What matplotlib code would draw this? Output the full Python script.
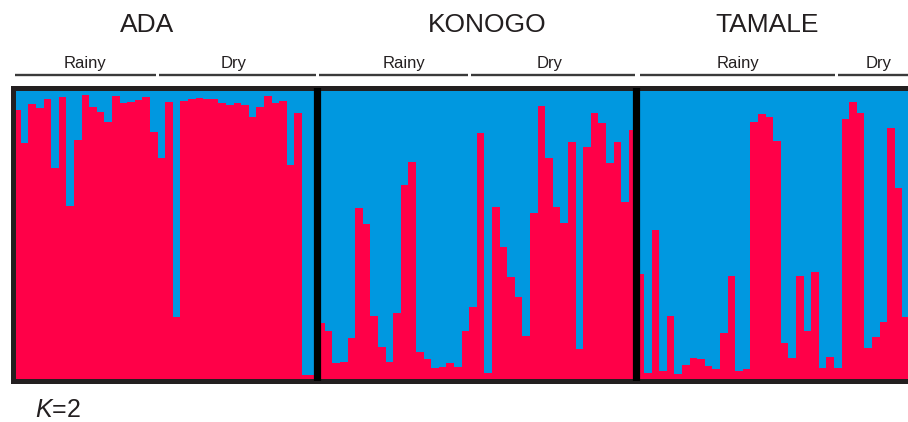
import matplotlib.pyplot as plt
import numpy as np

plt.rcParams['font.family'] = ['Liberation Sans', 'DejaVu Sans']
plt.rcParams['mathtext.fontset'] = 'custom'
plt.rcParams['mathtext.rm'] = 'Liberation Sans'
plt.rcParams['mathtext.it'] = 'Liberation Sans:italic'

# membership in cluster 1 (red) per individual, K=2
ada = [0.923, 0.811, 0.944, 0.930, 0.961, 0.726, 0.968, 0.596, 0.821, 0.974,
       0.933, 0.916, 0.882, 0.971, 0.947, 0.951, 0.957, 0.968, 0.848, 0.760,
       0.952, 0.219, 0.955, 0.960, 0.965, 0.960, 0.961, 0.946, 0.940, 0.948,
       0.940, 0.900, 0.935, 0.972, 0.948, 0.954, 0.736, 0.912, 0.020, 0.020]
konogo = [0.196, 0.171, 0.060, 0.065, 0.147, 0.590, 0.534, 0.222, 0.116, 0.063,
          0.232, 0.668, 0.747, 0.099, 0.073, 0.043, 0.048, 0.060, 0.046, 0.171,
          0.253, 0.844, 0.026, 0.592, 0.457, 0.353, 0.285, 0.153, 0.571, 0.937,
          0.759, 0.592, 0.537, 0.815, 0.107, 0.798, 0.912, 0.878, 0.742, 0.815,
          0.610, 0.855]
tamale = [0.364, 0.026, 0.514, 0.034, 0.221, 0.022, 0.054, 0.077, 0.073, 0.051,
          0.039, 0.162, 0.358, 0.034, 0.039, 0.881, 0.910, 0.898, 0.818, 0.128,
          0.077, 0.358, 0.171, 0.370, 0.043, 0.082, 0.043, 0.892, 0.950, 0.912,
          0.113, 0.148, 0.202, 0.861, 0.658, 0.219]

populations = ['ADA', 'KONOGO', 'TAMALE']
seasons = ['Rainy', 'Dry']
# number of individuals per season within each population
season_sizes = [(19, 21), (20, 22), (26, 10)]

red = '#ff0048'
blue = '#0098e0'
frame = '#231f20'

q = np.array(ada + konogo + tamale)
x = np.arange(len(q))

W, H = 908, 422
fig = plt.figure(figsize=(W / 100, H / 100), dpi=100)
# axes box in pixels: left, top, right, bottom
L, T, R, B = 12.5, 87.5, 932, 380.8
ax = fig.add_axes([L / W, 1 - B / H, (R - L) / W, (B - T) / H])

ax.bar(x, q, width=1.0, color=red, linewidth=0)
ax.bar(x, 1 - q, bottom=q, width=1.0, color=blue, linewidth=0)

bar_px = 7.6
x0 = 13.1
ax.set_xlim(-0.5 + (L - x0) / bar_px, -0.5 + (R - x0) / bar_px)
ax.set_ylim(0, 1)
ax.set_xticks([])
ax.set_yticks([])
for s in ax.spines.values():
    s.set_color(frame)
    s.set_linewidth(3.6)

# black separators between populations
bounds = np.cumsum([len(ada), len(konogo)]) - 0.5
for b in bounds:
    ax.axvline(b, color='black', linewidth=5.2, zorder=5)

# season header lines and labels
trans = ax.get_xaxis_transform()
line_y = (B - 74.5) / (B - T)
label_x = [8.96, 28.57, 50.93, 70.14, 94.88, 113.4]
title_x = [17.13, 61.87, 98.7]
start = 0
k = 0
for p, sizes in enumerate(season_sizes):
    for s, n in enumerate(sizes):
        shift = 0.35 if p == 2 else 0.0
        ax.plot([start - 0.3 + shift, start + n - 0.65 + shift], [line_y, line_y],
                color='#3a3a3a', linewidth=1.7, transform=trans, clip_on=False,
                solid_capstyle='butt')
        ax.text(label_x[k], line_y + 0.012, seasons[s], transform=trans,
                ha='center', va='bottom', fontsize=12, color='#231f20')
        start += n
        k += 1
    ax.text(title_x[p], (B - 25) / (B - T), populations[p], transform=trans,
            ha='center', va='center', fontsize=19, color='#231f20')

fig.text(35 / W, 1 - 410 / H, '$K$=2', ha='left', va='center', fontsize=18,
         color='#231f20')

fig.savefig('out.png', dpi=100)
